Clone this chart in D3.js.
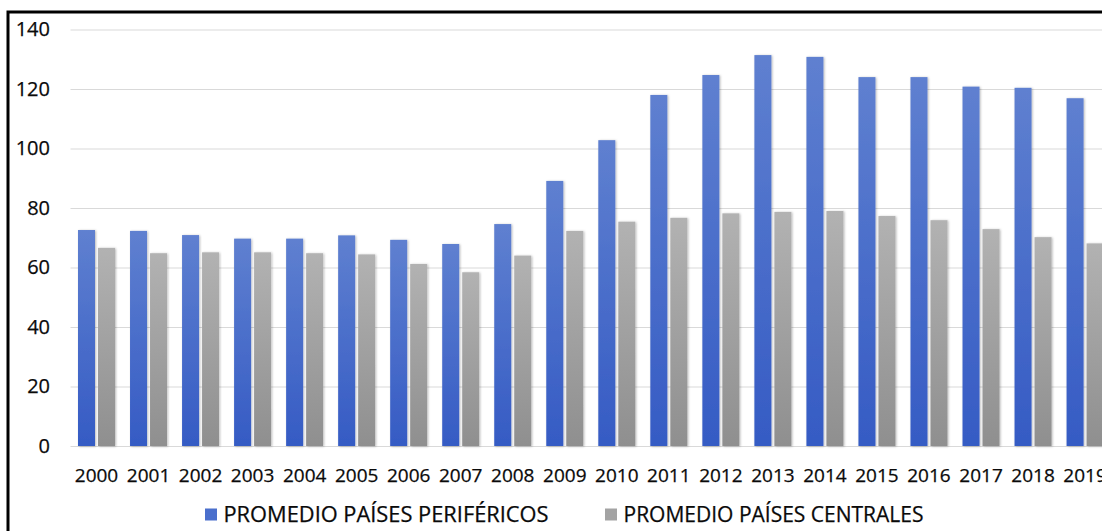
<!DOCTYPE html>
<html>
<head>
<meta charset="utf-8">
<script src="https://cdn.jsdelivr.net/npm/d3@7/dist/d3.min.js"></script>
<style>
  html, body { margin: 0; padding: 0; background: #fff; overflow: hidden; }
  svg { display: block; }
  text { font-family: "Open Sans", "Liberation Sans", sans-serif; fill: #0a0a0a; stroke: #0a0a0a; stroke-width: 0.25px; }
</style>
</head>
<body>
<svg id="chart" width="1102" height="531"></svg>
<script>
// Years on the category axis
const years = ["2000","2001","2002","2003","2004","2005","2006","2007","2008","2009",
               "2010","2011","2012","2013","2014","2015","2016","2017","2018","2019"];

// Series names (legend labels)
const seriesNames = ["PROMEDIO PAÍSES PERIFÉRICOS", "PROMEDIO PAÍSES CENTRALES"];

// Average for peripheral countries
const periferico = [72.6, 72.3, 70.9, 69.7, 69.7, 70.8, 69.3, 67.9, 74.6, 89.1,
                    102.8, 118.0, 124.7, 131.4, 130.8, 124.0, 124.0, 120.8, 120.4, 116.9];

// Average for central countries
const central = [66.6, 64.8, 65.1, 65.1, 64.8, 64.4, 61.2, 58.4, 64.0, 72.3,
                 75.4, 76.7, 78.2, 78.7, 79.0, 77.3, 75.9, 72.9, 70.2, 68.1];

// Value axis ticks
const yTicks = [0, 20, 40, 60, 80, 100, 120, 140];

const svg = d3.select("#chart");
const W = 1102, H = 531;

svg.append("rect").attr("width", W).attr("height", H).attr("fill", "#fff");

const defs = svg.append("defs");
function vGrad(id, top, bottom) {
  const g = defs.append("linearGradient").attr("id", id)
    .attr("x1", 0).attr("y1", 0).attr("x2", 0).attr("y2", 1);
  g.append("stop").attr("offset", "0%").attr("stop-color", top);
  g.append("stop").attr("offset", "100%").attr("stop-color", bottom);
}
vGrad("gBlue", "#5f80d0", "#355bc4");
vGrad("gGray", "#b2b2b2", "#8f8f8f");

const shadow = defs.append("filter").attr("id", "barShadow")
  .attr("x", "-30%").attr("y", "-5%").attr("width", "160%").attr("height", "110%");
shadow.append("feDropShadow").attr("dx", 1).attr("dy", 0.5)
  .attr("stdDeviation", 0.9).attr("flood-color", "#000").attr("flood-opacity", 0.28);

const fills = ["url(#gBlue)", "url(#gGray)"];
const swatch = ["#4a6fcc", "#a3a3a3"];

// Scales
const x0 = d3.scaleBand().domain(years).range([70.5, 70.5 + 20 * 52.03]).padding(0);
const x1 = d3.scaleBand().domain(seriesNames).range([7.5, 44.5]).paddingInner(0.15).paddingOuter(0);
const y = d3.scaleLinear().domain([0, 140]).range([446, 29.5]);

// Gridlines
const grid = svg.append("g")
  .attr("transform", `translate(${x0.range()[0]},0)`)
  .call(d3.axisLeft(y).tickValues(yTicks).tickSize(-(x0.range()[1] - x0.range()[0])).tickFormat(""));
grid.select(".domain").remove();
grid.selectAll(".tick line").attr("stroke", "#d9d9d9").attr("stroke-width", 1.2);

// Y tick labels
const yAxis = svg.append("g")
  .attr("transform", "translate(50,0)")
  .call(d3.axisLeft(y).tickValues(yTicks).tickSize(0).tickPadding(0));
yAxis.select(".domain").remove();
yAxis.selectAll("text")
  .attr("font-size", 20).attr("fill", "#0a0a0a")
  .style("font-family", "'Open Sans', sans-serif");

// Bars
const rows = years.map((yr, i) => ({ year: yr, vals: [periferico[i], central[i]] }));
const groups = svg.append("g").selectAll("g").data(rows).join("g")
  .attr("transform", d => `translate(${x0(d.year)},0)`);
groups.selectAll("rect")
  .data(d => d.vals.map((v, k) => ({ k, v })))
  .join("rect")
  .attr("x", d => x1(seriesNames[d.k]))
  .attr("width", x1.bandwidth())
  .attr("y", d => y(d.v))
  .attr("height", d => y(0) - y(d.v))
  .attr("fill", d => fills[d.k])
  .attr("filter", "url(#barShadow)");

// X tick labels
const xAxis = svg.append("g")
  .attr("transform", "translate(0,468.5)")
  .call(d3.axisBottom(x0).tickSize(0).tickPadding(0));
xAxis.select(".domain").remove();
xAxis.selectAll("text")
  .attr("dy", "0.71em")
  .attr("font-size", 19).attr("fill", "#0a0a0a")
  .style("font-family", "'Open Sans', sans-serif");

// Legend
const legendX = [205, 605];
const legendW = [325, 300];
const legend = svg.append("g");
seriesNames.forEach((name, k) => {
  legend.append("rect")
    .attr("x", legendX[k]).attr("y", 508.5)
    .attr("width", 12).attr("height", 12)
    .attr("fill", swatch[k]);
  legend.append("text")
    .attr("x", legendX[k] + 18.5).attr("y", 522)
    .attr("font-size", 21)
    .attr("textLength", legendW[k])
    .attr("lengthAdjust", "spacingAndGlyphs")
    .text(name);
});

// Frame around the chart
svg.append("rect")
  .attr("x", 8).attr("y", 12)
  .attr("width", W + 50).attr("height", H + 50)
  .attr("fill", "none").attr("stroke", "#000").attr("stroke-width", 3);
</script>
</body>
</html>
